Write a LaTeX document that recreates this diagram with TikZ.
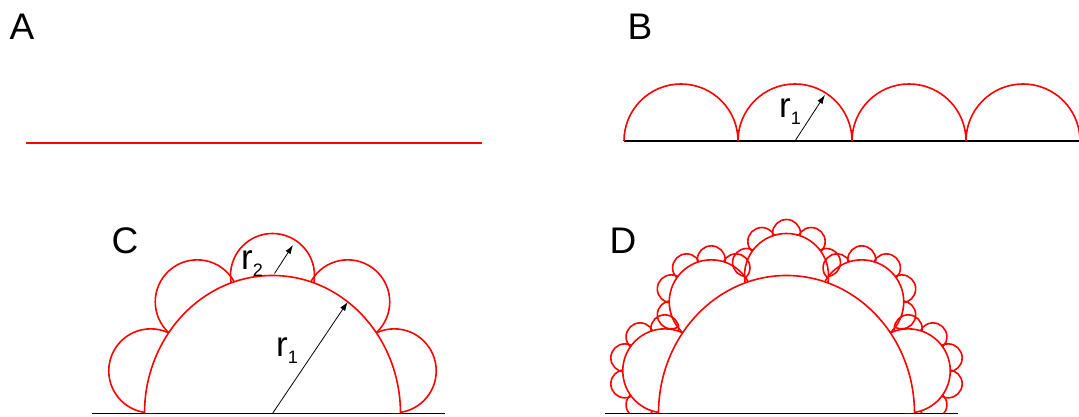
\documentclass[tikz,border=0pt]{standalone}
\usepackage{fontspec}
\setmainfont{Liberation Sans}
\usetikzlibrary{calc, arrows.meta}

\tikzset{
  redline/.style={red, line width=1.6pt},
  ground/.style={black, line width=1.2pt},
  radius arrow/.style={black, line width=0.8pt, -{Latex[length=9pt,width=6pt]}},
  panel/.style={font=\fontsize{37}{37}\selectfont, inner sep=0pt},
  rlabel/.style={font=\fontsize{35}{35}\selectfont, inner sep=0pt, anchor=base west},
}
\newcommand{\rsub}[1]{r\raisebox{-7pt}{\fontsize{18}{18}\selectfont #1}}

\begin{document}
\begin{tikzpicture}[x=1pt, y=1pt]
  \useasboundingbox (0,0) rectangle (1079,417);
  % big half circle is slightly taller than wide in the original
  \def\Rx{128}
  \def\Ry{138}
  \def\rr{42}
  \def\rrr{14}

  % A: plain line
  \coordinate (A0) at (26,274);
  \coordinate (A1) at (482,274);
  \draw[redline, line width=2.4pt] (A0) -- (A1);
  \node[panel] (labA) at (22,390) {A};

  % B: half circles of radius r1 along the line
  \coordinate (B0) at (624,276);
  \coordinate (B1) at (1079,276);
  \draw[ground] (B0) -- (B1);
  \foreach \i in {0,...,3}
    \draw[redline] (624+\i*114,276) arc (180:0:57);
  \coordinate (Bc) at (795,276);
  \coordinate (Bt) at ($(Bc)+(57:55)$);
  \draw[radius arrow] (Bc) -- (Bt);
  \node[panel] (labB) at (640,390) {B};
  \node[rlabel] (rB) at (779,299) {\rsub{1}};

  % C: one step, five circles of radius r2 on the big one
  \coordinate (C0) at (92,3.5);
  \coordinate (C1) at (445,3.5);
  \coordinate (Co) at (272.5,3.5);
  \draw[ground] (C0) -- (C1);
  \draw[redline] ($(Co)+(\Rx,0)$) arc [start angle=0, end angle=180, x radius=\Rx, y radius=\Ry];
  \begin{scope}[even odd rule]
    \clip (0,3.5) rectangle (1079,417) (Co) ellipse [x radius=\Rx, y radius=\Ry];
    \foreach \t in {18,54,...,162}
      \draw[redline] ($(Co)+({\Rx*cos(\t)},{\Ry*sin(\t)})$) circle (\rr);
  \end{scope}
  \coordinate (Ct) at ($(Co)+({\Rx*cos(54)},{\Ry*sin(54)})$);
  \coordinate (Cs) at ($(Co)+(2,\Ry+2)$);
  \coordinate (Cst) at ($(Cs)+(57:34)$);
  \draw[radius arrow] (Co) -- (Ct);
  \draw[radius arrow] (Cs) -- (Cst);
  \node[panel] (labC) at (125,176) {C};
  \node[rlabel] (rC1) at (276,60) {\rsub{1}};
  \node[rlabel] (rC2) at (241,147) {\rsub{2}};

  % D: same again, five circles of radius r3 on every r2 circle
  \coordinate (D0) at (605,3.5);
  \coordinate (D1) at (958,3.5);
  \coordinate (Do) at (786.5,3.5);
  \draw[ground] (D0) -- (D1);
  \draw[redline] ($(Do)+(\Rx,0)$) arc [start angle=0, end angle=180, x radius=\Rx, y radius=\Ry];
  \begin{scope}[even odd rule]
    \clip (0,3.5) rectangle (1079,417) (Do) ellipse [x radius=\Rx, y radius=\Ry];
    \foreach \t in {18,54,...,162} {
      \coordinate (Dm) at ($(Do)+({\Rx*cos(\t)},{\Ry*sin(\t)})$);
      \draw[redline] (Dm) circle (\rr);
      \begin{scope}
        \clip (0,3.5) rectangle (1079,417) (Dm) circle (\rr);
        \foreach \s in {-72,-36,...,72}
          \draw[redline] ($(Dm)+(\t+\s:\rr)$) circle (\rrr);
      \end{scope}
    }
  \end{scope}
  \node[panel] (labD) at (623,176) {D};
\end{tikzpicture}
\end{document}
